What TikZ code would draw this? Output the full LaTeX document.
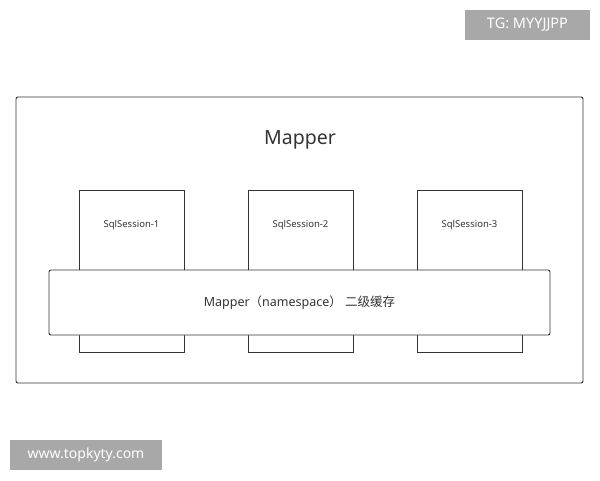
\documentclass[tikz,border=0pt]{standalone}
\usepackage{fontspec}
\usepackage{xcolor}
\usepackage{tikz}
\usetikzlibrary{positioning}
\setmainfont{Noto Sans}
\newfontfamily\cjk{Noto Sans CJK SC}
\definecolor{linegray}{HTML}{333333}
\definecolor{markgray}{HTML}{A8A8A8}
\tikzset{
  sessbox/.style={draw=linegray, line width=0.9pt, minimum width=105pt, minimum height=162pt, inner sep=0pt},
  sesstext/.style={font=\fontsize{9.5}{11}\selectfont, text=linegray},
  cachebox/.style={draw=linegray, line width=0.9pt, fill=white, rounded corners=2pt, minimum width=501pt, minimum height=65pt},
  markbox/.style={fill=markgray, text=white, inner sep=0pt, minimum height=30pt}
}
\begin{document}
\begin{tikzpicture}[x=1pt, y=-1pt]
   % Canvas (fixed size)
   \useasboundingbox (0,0) rectangle (600,480);
    % Outer Mapper frame
    \node[draw=linegray, line width=0.9pt, rounded corners=2pt, minimum width=567pt, minimum height=286pt] (mapper) at (299.5,240) {};
    \node[font=\fontsize{19.5}{22}\selectfont, text=linegray] (title) at (300,140) {Mapper};

    % Sessions behind the cache
    \node[sessbox] (s1) at (131.5,271) {};
    \node[sessbox, right=63.1pt of s1] (s2) {};
    \node[sessbox, right=63.1pt of s2] (s3) {};
    \node[sesstext] (t1) at ([yshift=-35pt]s1.north) {SqlSession-1};
    \node[sesstext] (t2) at ([yshift=-35pt]s2.north) {SqlSession-2};
    \node[sesstext] (t3) at ([yshift=-35pt]s3.north) {SqlSession-3};

    % Second level cache across all sessions
    \node[cachebox, font=\fontsize{12.5}{14}\selectfont, text=linegray] (cache) at (299.5,302.5) {Mapper{\cjk （}namespace{\cjk ）} {\cjk 二级缓存}};

    % Watermarks
    \node[markbox, minimum width=125pt, font=\fontsize{14.5}{16}\selectfont] (tg) at (527.5,25) {TG: MYYJJPP};
    \node[markbox, minimum width=152pt, font=\fontsize{14}{16}\selectfont] (site) at (86,455) {www.topkyty.com};
\end{tikzpicture}
\end{document}
